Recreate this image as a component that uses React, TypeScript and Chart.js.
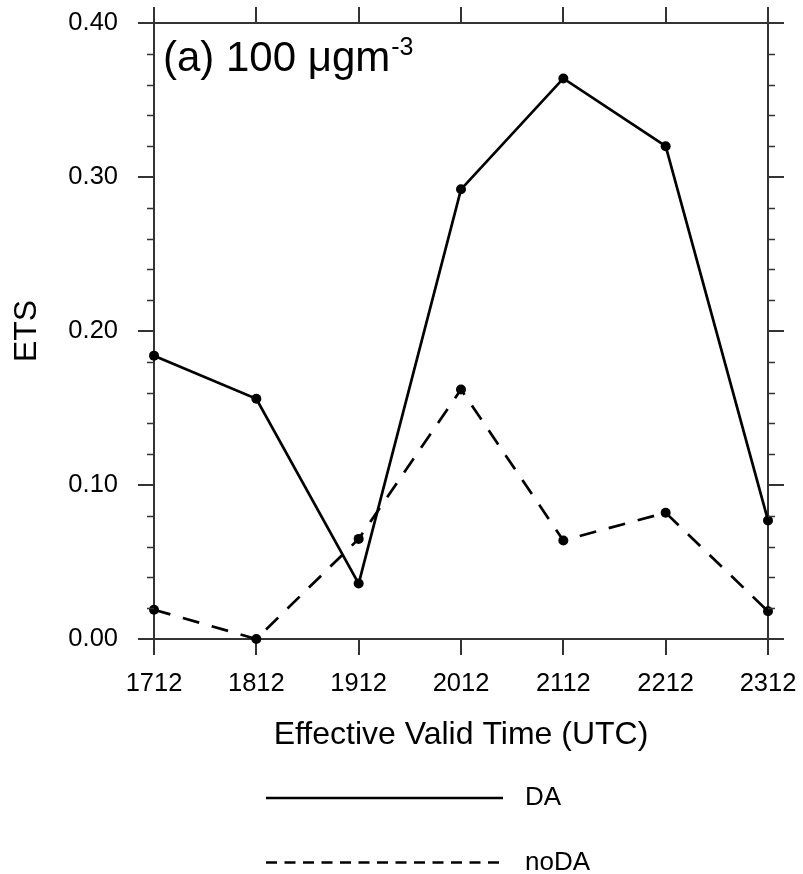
import React, { useEffect, useRef } from "react";
import { Chart, registerables } from "chart.js";

Chart.register(...registerables);

// ---- data ----
const times = ["1712", "1812", "1912", "2012", "2112", "2212", "2312"];
const daValues = [0.184, 0.156, 0.036, 0.292, 0.364, 0.32, 0.077];
const noDaValues = [0.019, 0.0, 0.065, 0.162, 0.064, 0.082, 0.018];
const yMajorTicks = [0.0, 0.1, 0.2, 0.3, 0.4];
const yMinorTicks = [
  0.02, 0.04, 0.06, 0.08, 0.12, 0.14, 0.16, 0.18, 0.22, 0.24, 0.26, 0.28, 0.32,
  0.34, 0.36, 0.38,
];
const seriesNames = ["DA", "noDA"];
const panelTitle = "(a) 100 μgm";
const panelTitleSup = "-3";
const xTitle = "Effective Valid Time (UTC)";
const yTitle = "ETS";

const FONT = '"Liberation Sans", Arial, Helvetica, sans-serif';
const AXIS = "#333";
const INK = "#000";
const SOLID: number[] = [];
const DASH = [17, 13];
const LEGEND_DASH = [11, 7.5];

const decorPlugin = {
  id: "decor",
  afterDraw(chart: any) {
    const ctx = chart.ctx as CanvasRenderingContext2D;
    const y = chart.scales.y;
    const { left, right, top } = chart.chartArea;
    ctx.save();
    // minor ticks on left and right
    ctx.strokeStyle = AXIS;
    ctx.lineWidth = 1.5;
    ctx.beginPath();
    yMinorTicks.forEach((v) => {
      const py = Math.round(y.getPixelForValue(v)) + 0.5;
      ctx.moveTo(left - 7, py);
      ctx.lineTo(left, py);
      ctx.moveTo(right, py);
      ctx.lineTo(right + 7, py);
    });
    ctx.stroke();

    // panel title
    ctx.fillStyle = INK;
    ctx.textAlign = "left";
    ctx.textBaseline = "alphabetic";
    ctx.font = `42px ${FONT}`;
    const tx = left + 9;
    const ty = top + 48;
    ctx.fillText(panelTitle, tx, ty);
    const w = ctx.measureText(panelTitle).width;
    ctx.font = `25px ${FONT}`;
    ctx.fillText(panelTitleSup, tx + w + 1, ty - 16);

    // legend
    const lx0 = 266;
    const lx1 = 503;
    const rows = [
      { y: 798, dash: SOLID, label: seriesNames[0] },
      { y: 862.5, dash: LEGEND_DASH, label: seriesNames[1] },
    ];
    rows.forEach((r) => {
      ctx.strokeStyle = INK;
      ctx.lineWidth = 2.5;
      ctx.setLineDash(r.dash);
      ctx.beginPath();
      ctx.moveTo(lx0, r.y);
      ctx.lineTo(lx1, r.y);
      ctx.stroke();
      ctx.setLineDash([]);
      ctx.font = `26px ${FONT}`;
      ctx.textBaseline = "middle";
      ctx.fillText(r.label, 525, r.y);
    });
    ctx.restore();
  },
};

export default function App() {
  const canvasRef = useRef<HTMLCanvasElement | null>(null);

  useEffect(() => {
    if (!canvasRef.current) return;
    const tickFont = { family: FONT, size: 25.5 };
    const gridCommon = {
      display: true,
      drawOnChartArea: false,
      drawTicks: true,
      tickLength: 16,
      color: AXIS,
      lineWidth: 2,
    };
    const border = { display: true, color: AXIS, width: 2 };
    const setY = (s: any) => {
      s.ticks = yMajorTicks.map((v) => ({ value: v }));
    };
    const fixH = (h: number) => (s: any) => {
      s.height = h;
      s.paddingLeft = 0;
      s.paddingRight = 0;
      s.paddingTop = 0;
      s.paddingBottom = 0;
    };
    const fixW = (w: number) => (s: any) => {
      s.width = w;
      s.paddingLeft = 0;
      s.paddingRight = 0;
      s.paddingTop = 0;
      s.paddingBottom = 0;
    };

    const chart = new Chart(canvasRef.current, {
      type: "line",
      data: {
        labels: times,
        datasets: [
          {
            label: seriesNames[0],
            data: daValues,
            borderColor: INK,
            backgroundColor: INK,
            borderWidth: 2.7,
            pointRadius: 5,
            pointBackgroundColor: INK,
            pointBorderWidth: 0,
            tension: 0,
            clip: false as any,
          },
          {
            label: seriesNames[1],
            data: noDaValues,
            borderColor: INK,
            backgroundColor: INK,
            borderWidth: 2.7,
            borderDash: DASH,
            pointRadius: 5,
            pointBackgroundColor: INK,
            pointBorderWidth: 0,
            tension: 0,
            clip: false as any,
          },
        ],
      },
      options: {
        animation: false,
        responsive: true,
        maintainAspectRatio: false,
        layout: { padding: { left: 0, top: 0, right: 0, bottom: 114 } },
        plugins: {
          legend: { display: false },
          tooltip: { enabled: false },
          title: { display: false },
        },
        scales: {
          x: {
            type: "category",
            position: "bottom",
            offset: false,
            grid: gridCommon,
            border,
            ticks: {
              color: INK,
              font: tickFont,
              padding: 14,
              maxRotation: 0,
              autoSkip: false,
            },
            title: {
              display: true,
              text: xTitle,
              color: INK,
              font: { family: FONT, size: 32 },
              padding: { top: 0, bottom: 6 },
            },
            afterFit: fixH(121),
          },
          x2: {
            type: "category",
            labels: times,
            position: "top",
            offset: false,
            grid: gridCommon,
            border,
            ticks: { display: false, autoSkip: false },
            afterFit: fixH(23),
          },
          y: {
            type: "linear",
            position: "left",
            min: 0,
            max: 0.4,
            grid: gridCommon,
            border,
            afterBuildTicks: setY,
            ticks: {
              color: INK,
              font: tickFont,
              padding: 20,
              callback: (v: any) => Number(v).toFixed(2),
            },
            title: {
              display: true,
              text: yTitle,
              color: INK,
              font: { family: FONT, size: 32 },
              padding: { top: 8, bottom: 0 },
            },
            afterFit: fixW(154),
          },
          y2: {
            type: "linear",
            position: "right",
            min: 0,
            max: 0.4,
            grid: gridCommon,
            border,
            afterBuildTicks: setY,
            ticks: { display: false },
            afterFit: fixW(35),
          },
        },
      } as any,
      plugins: [decorPlugin],
    });
    return () => chart.destroy();
  }, []);

  return (
    <div
      style={{
        position: "absolute",
        left: 0,
        top: 0,
        width: 803,
        height: 874,
        background: "#fff",
      }}
    >
      <canvas ref={canvasRef} />
    </div>
  );
}
